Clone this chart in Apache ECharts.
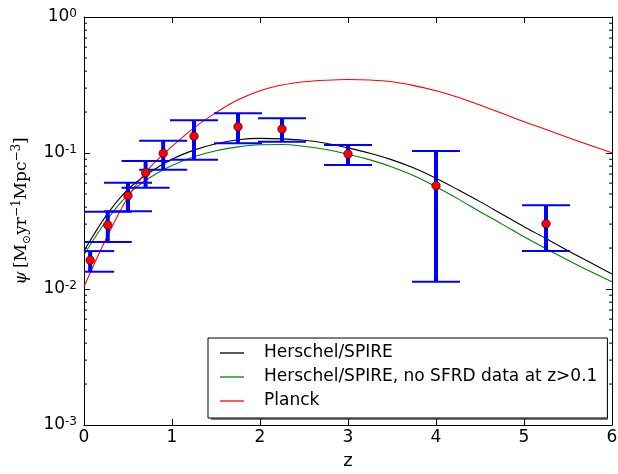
<!DOCTYPE html>
<html>
<head>
<meta charset="utf-8">
<script src="https://cdn.jsdelivr.net/npm/echarts@6/dist/echarts.min.js"></script>
<style>
html,body{margin:0;padding:0;background:#fff;}
#chart{width:618px;height:474px;}
</style>
</head>
<body>
<div id="chart"></div>
<script>
// ---- data ----
var zData = [0.07, 0.27, 0.5, 0.7, 0.9, 1.25, 1.75, 2.25, 3.0, 4.0, 5.25];
var psiData = [0.0163, 0.0296, 0.0485, 0.0716, 0.0995, 0.133, 0.156, 0.150, 0.0984, 0.0575, 0.0302];
var psiLow = [0.0134, 0.0222, 0.0373, 0.0556, 0.0754, 0.0893, 0.118, 0.121, 0.0816, 0.0113, 0.019];
var psiHigh = [0.019, 0.037, 0.0605, 0.0873, 0.123, 0.174, 0.196, 0.180, 0.1145, 0.1035, 0.0412];

var zCurve = [0, 0.25, 0.5, 0.75, 1.0, 1.25, 1.5, 1.75, 2.0, 2.25, 2.5, 2.75, 3.0,
              3.25, 3.5, 3.75, 4.0, 4.25, 4.5, 4.75, 5.0, 5.25, 5.5, 5.75, 6.0];
var herschel =       [0.0190, 0.0345, 0.0540, 0.0722, 0.0900, 0.105, 0.117, 0.125, 0.128, 0.127, 0.124, 0.118, 0.109,
                      0.0995, 0.089, 0.0775, 0.0652, 0.0537, 0.0439, 0.0355, 0.0287, 0.0235, 0.0191, 0.0157, 0.0129];
var herschelNoSFRD = [0.0178, 0.0315, 0.0495, 0.066, 0.081, 0.094, 0.104, 0.111, 0.115, 0.1155, 0.112, 0.106, 0.098,
                      0.089, 0.079, 0.068, 0.0565, 0.046, 0.037, 0.030, 0.0242, 0.0198, 0.0163, 0.0135, 0.0113];
var planck =         [0.0104, 0.0233, 0.0475, 0.0785, 0.1117, 0.153, 0.198, 0.246, 0.287, 0.316, 0.334, 0.343, 0.347,
                      0.344, 0.334, 0.313, 0.287, 0.257, 0.225, 0.196, 0.170, 0.149, 0.130, 0.114, 0.1005];

var seriesNames = ['Herschel/SPIRE', 'Herschel/SPIRE, no SFRD data at z>0.1', 'Planck'];
var xTicks = [0, 1, 2, 3, 4, 5, 6];
var minorTickValues = [0.002,0.003,0.004,0.005,0.006,0.007,0.008,0.009,
                       0.02,0.03,0.04,0.05,0.06,0.07,0.08,0.09,
                       0.2,0.3,0.4,0.5,0.6,0.7,0.8,0.9];

function pairs(xs, ys){ return xs.map(function(x,i){ return [x, ys[i]]; }); }

var chart = echarts.init(document.getElementById('chart'), null, {renderer:'canvas'});
var FONT = 'DejaVu Sans';
var SERIF = 'DejaVu Serif';

var errData = zData.map(function(z,i){ return [z, psiLow[i], psiHigh[i]]; });

function lineSeries(name, ys, color){
  return {
    name: name, type: 'line', xAxisIndex: 0, yAxisIndex: 0,
    data: pairs(zCurve, ys), smooth: 0.35, showSymbol: false, symbol: 'none',
    lineStyle: {color: color, width: 1.1}, itemStyle: {color: color}, z: 2, clip: true
  };
}

var option = {
  animation: false,
  backgroundColor: '#fff',
  grid: {left: 84, right: 6, top: 17, bottom: 49, containLabel: false, outerBoundsMode: 'none'},
  graphic: [{
    type: 'rect', z: 50, silent: true,
    shape: {x: 211, y: 341, width: 397, height: 79},
    style: {fill: 'rgba(0,0,0,0.5)'}
  }],
  legend: {
    show: true, z: 60,
    orient: 'vertical',
    left: 208, top: 338,
    data: seriesNames,
    icon: 'rect',
    itemWidth: 24, itemHeight: 1.3,
    itemGap: 0,
    padding: [3, 10, 5, 12],
    backgroundColor: '#fff',
    borderColor: '#000', borderWidth: 1, borderRadius: 0,
    textStyle: {fontFamily: FONT, fontSize: 17, color: '#000', lineHeight: 24, padding: [0,0,0,15]}
  },
  xAxis: [{
    type: 'value', min: 0, max: 6, interval: 1,
    position: 'bottom',
    name: 'z', nameLocation: 'middle', nameGap: 27,
    nameTextStyle: {fontFamily: FONT, fontSize: 18, color: '#000'},
    axisLine: {show: true, onZero: false, lineStyle: {color: '#000', width: 1}},
    axisTick: {show: true, inside: true, length: 6, lineStyle: {color: '#000'}},
    axisLabel: {show: true, margin: 4, fontFamily: FONT, fontSize: 17, color: '#000',
      formatter: function(v){ return xTicks.indexOf(v) >= 0 ? String(v) : ''; }},
    splitLine: {show: false}
  },{
    type: 'value', min: 0, max: 6, interval: 1,
    position: 'top',
    axisLine: {show: true, onZero: false, lineStyle: {color: '#000', width: 1}},
    axisTick: {show: true, inside: true, length: 6, lineStyle: {color: '#000'}},
    axisLabel: {show: false},
    splitLine: {show: false}
  }],
  yAxis: [{
    type: 'log', logBase: 10, min: 0.001, max: 1,
    position: 'left',
    name: '{i|ψ} {r|[M}{sub|⊙}{r|yr}{sup|−1}{r|Mpc}{sup|−3}{r|]}',
    nameLocation: 'middle', nameGap: 45, nameRotate: 90,
    nameTextStyle: {
      color: '#000',
      padding: [0, 0, 0, 20],
      rich: {
        i: {fontFamily: SERIF, fontStyle: 'italic', fontSize: 17, color: '#000', lineHeight: 22},
        r: {fontFamily: SERIF, fontSize: 17, color: '#000', lineHeight: 22},
        sub: {fontFamily: SERIF, fontSize: 11, color: '#000', verticalAlign: 'bottom', lineHeight: 22},
        sup: {fontFamily: SERIF, fontSize: 12, color: '#000', verticalAlign: 'top', lineHeight: 22}
      }
    },
    axisLine: {show: true, onZero: false, lineStyle: {color: '#000', width: 1}},
    axisTick: {show: true, inside: true, length: 6, lineStyle: {color: '#000'}},
    axisLabel: {
      show: true, margin: 7,
      formatter: function(v){
        var e = Math.round(Math.log(v)/Math.LN10);
        return '{b|10}{s|' + e + '}';
      },
      rich: {
        b: {fontFamily: FONT, fontSize: 17, color: '#000', lineHeight: 19},
        s: {fontFamily: FONT, fontSize: 12, color: '#000', verticalAlign: 'top', lineHeight: 19}
      }
    },
    splitLine: {show: false}
  },{
    type: 'log', logBase: 10, min: 0.001, max: 1,
    position: 'right',
    axisLine: {show: true, onZero: false, lineStyle: {color: '#000', width: 1}},
    axisTick: {show: true, inside: true, length: 6, lineStyle: {color: '#000'}},
    axisLabel: {show: false},
    splitLine: {show: false}
  }],
  series: [
    lineSeries(seriesNames[0], herschel, '#000000'),
    lineSeries(seriesNames[1], herschelNoSFRD, '#008000'),
    lineSeries(seriesNames[2], planck, '#ff0000'),
    {
      name: 'errorbars', type: 'custom', xAxisIndex: 0, yAxisIndex: 0, z: 3,
      data: errData,
      renderItem: function(params, api){
        var z = api.value(0);
        var lo = api.coord([z, api.value(1)]);
        var hi = api.coord([z, api.value(2)]);
        var cs = params.coordSys;
        var x = lo[0];
        var capHalf = 24;
        var xl = Math.max(cs.x, x - capHalf), xr = Math.min(cs.x + cs.width, x + capHalf);
        var blue = '#0000ff';
        return {
          type: 'group',
          children: [
            {type: 'line', shape: {x1: x, y1: hi[1], x2: x, y2: lo[1]}, style: {stroke: blue, lineWidth: 4}},
            {type: 'line', shape: {x1: xl, y1: hi[1], x2: xr, y2: hi[1]}, style: {stroke: blue, lineWidth: 2}},
            {type: 'line', shape: {x1: xl, y1: lo[1], x2: xr, y2: lo[1]}, style: {stroke: blue, lineWidth: 2}}
          ]
        };
      }
    },
    {
      name: 'points', type: 'scatter', xAxisIndex: 0, yAxisIndex: 0, z: 4,
      data: pairs(zData, psiData), symbol: 'circle', symbolSize: 8.5,
      itemStyle: {color: '#ff0000', borderColor: '#000', borderWidth: 0.6, opacity: 1}
    },
    {
      name: 'minorTicks', type: 'custom', xAxisIndex: 0, yAxisIndex: 0, z: 5, silent: true,
      data: minorTickValues.map(function(v){ return [0, v]; }),
      renderItem: function(params, api){
        var p = api.coord([0, api.value(1)]);
        var cs = params.coordSys;
        return {
          type: 'group',
          children: [
            {type: 'line', shape: {x1: cs.x, y1: p[1], x2: cs.x + 3, y2: p[1]}, style: {stroke: '#000', lineWidth: 1}},
            {type: 'line', shape: {x1: cs.x + cs.width - 3, y1: p[1], x2: cs.x + cs.width, y2: p[1]}, style: {stroke: '#000', lineWidth: 1}}
          ]
        };
      }
    }
  ]
};
chart.setOption(option);
</script>
</body>
</html>
